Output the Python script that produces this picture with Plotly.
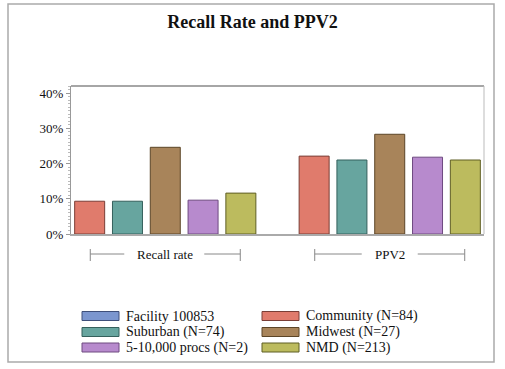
import plotly.graph_objects as go

categories = ["Recall rate", "PPV2"]
series_names = ["Facility 100853", "Community (N=84)", "Suburban (N=74)",
                "Midwest (N=27)", "5-10,000 procs (N=2)", "NMD (N=213)"]
series_values = [
    [None, None],
    [9.3, 22.1],
    [9.3, 21.0],
    [24.6, 28.3],
    [9.6, 21.8],
    [11.6, 21.0],
]
fill_colors = ["#7b96cf", "#e07b6c", "#67a59f", "#a8845a", "#b78acd", "#bcbb5e"]
line_colors = ["#3e4f7a", "#7a3e36", "#35605c", "#5c4527", "#6e4a80", "#5f5e25"]
y_ticks = [0, 10, 20, 30, 40]

FONT = "Liberation Serif"

W, H = 505, 369
L, R, T, B = 71, 21, 86, 135
plot_w = W - L - R
plot_h = H - T - B
xr = [-0.42, 1.42]
ux = plot_w / (xr[1] - xr[0])  # px per category unit

def py_to_paper(py):
    return (H - B - py) / plot_h

def px_to_paper(px):
    return (px - L) / plot_w

fig = go.Figure()
bar_w = 30 / ux
pitch = 37.8 / ux
drawn = [i for i, v in enumerate(series_values) if any(x is not None for x in v)]
for i, (name, vals) in enumerate(zip(series_names, series_values)):
    if i in drawn:
        k = drawn.index(i) - (len(drawn) - 1) / 2
        off = k * pitch - bar_w / 2
    else:
        off = 0
    fig.add_trace(go.Bar(
        x=[0, 1], y=vals, name=name, width=bar_w, offset=off,
        marker=dict(color=fill_colors[i], line=dict(color=line_colors[i], width=1)),
        showlegend=False, hoverinfo="skip",
    ))

shapes = []
annotations = []
# category brackets
label_half = {"Recall rate": (29, 27), "PPV2": (16, 16)}
gap = 12
half_span = 75 / ux
for ci, cat in enumerate(categories):
    lh, rh = label_half[cat]
    y_mid = py_to_paper(254)
    y0 = py_to_paper(249)
    y1 = py_to_paper(261)
    left0 = ci - half_span
    left1 = ci - (lh + gap) / ux
    right0 = ci + (rh + gap) / ux
    right1 = ci + half_span
    sty = dict(color="#888888", width=1)
    for a, b in [(left0, left1), (right0, right1)]:
        shapes.append(dict(type="line", xref="x", yref="paper", x0=a, x1=b,
                           y0=y_mid, y1=y_mid, line=sty))
    for xx in (left0, right1):
        shapes.append(dict(type="line", xref="x", yref="paper", x0=xx, x1=xx,
                           y0=y0, y1=y1, line=sty))
    annotations.append(dict(x=ci, y=y_mid, xref="x", yref="paper", text=cat,
                            showarrow=False, xanchor="center", yanchor="middle",
                            font=dict(family=FONT, size=13, color="#111")))

# plot frame (top and right)
shapes.append(dict(type="line", xref="paper", yref="paper", x0=0, x1=1, y0=1, y1=1,
                   line=dict(color="#888888", width=1.5)))
shapes.append(dict(type="line", xref="paper", yref="paper", x0=1, x1=1, y0=0, y1=1,
                   line=dict(color="#bbbbbb", width=1)))
# outer border
shapes.append(dict(type="rect", xref="paper", yref="paper",
                   x0=px_to_paper(8), x1=px_to_paper(494),
                   y0=py_to_paper(362), y1=py_to_paper(4),
                   line=dict(color="#aaaaaa", width=1.5)))

# manual legend
legend_rows = [(0, 1), (2, 3), (4, 5)]
row_y = [316, 332, 347.5]
col_x = [82, 262]
for r, pair in enumerate(legend_rows):
    for c, idx in enumerate(pair):
        x0 = col_x[c]
        shapes.append(dict(type="rect", xref="paper", yref="paper",
                           x0=px_to_paper(x0), x1=px_to_paper(x0 + 37),
                           y0=py_to_paper(row_y[r] + 4.5), y1=py_to_paper(row_y[r] - 4.5),
                           fillcolor=fill_colors[idx],
                           line=dict(color=line_colors[idx], width=1)))
        annotations.append(dict(x=px_to_paper(x0 + 42), y=py_to_paper(row_y[r]),
                                xref="paper", yref="paper", text=series_names[idx],
                                showarrow=False, xanchor="left", yanchor="middle",
                                font=dict(family=FONT, size=14, color="#111")))

fig.update_layout(
    width=W, height=H,
    margin=dict(l=L, r=R, t=T, b=B),
    paper_bgcolor="white", plot_bgcolor="white",
    barmode="overlay",
    font=dict(family=FONT, size=13, color="#111"),
    title=dict(text="<b>Recall Rate and PPV2</b>", x=0.5, xanchor="center",
               y=1 - 22 / H, yanchor="middle",
               font=dict(family=FONT, size=18, color="#111")),
    xaxis=dict(range=xr, showticklabels=False, ticks="", showgrid=False,
               zeroline=False, showline=True, linecolor="#aaaaaa", linewidth=1.5),
    yaxis=dict(range=[0, 42], tickvals=y_ticks, ticktext=[f"{v}%" for v in y_ticks],
               showgrid=False, zeroline=False, showline=True, linecolor="#999999",
               linewidth=1, ticks="outside", ticklen=4, tickcolor="#999999",
               minor=dict(dtick=1, ticks="outside", ticklen=2, tickcolor="#bbbbbb"),
               tickfont=dict(family=FONT, size=13, color="#111")),
    shapes=shapes, annotations=annotations,
)

fig.write_html("out.html")
